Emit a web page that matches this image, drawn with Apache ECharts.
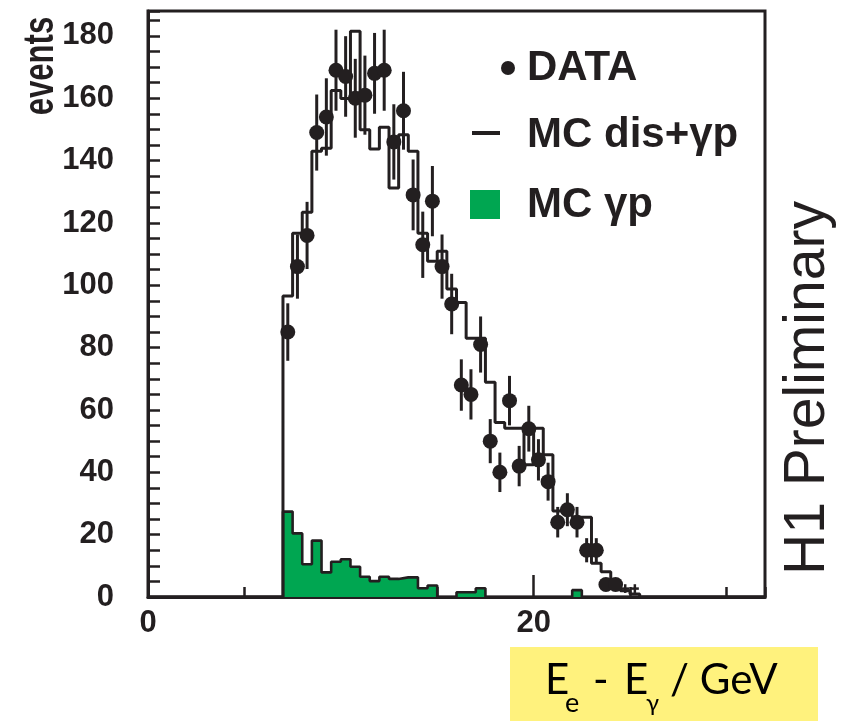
<!DOCTYPE html>
<html><head><meta charset="utf-8">
<script src="https://cdn.jsdelivr.net/npm/echarts@6/dist/echarts.min.js"></script>
<style>html,body{margin:0;padding:0;background:#fff}#c{width:843px;height:721px}</style>
</head><body><div id="c"></div>
<script>
// Histogram bins (left edges, GeV), bin width 0.5
const binLeft = [7.0,7.5,8.0,8.5,9.0,9.5,10.0,10.5,11.0,11.5,12.0,12.5,13.0,13.5,14.0,14.5,15.0,15.5,16.0,16.5,17.0,17.5,18.0,18.5,19.0,19.5,20.0,20.5,21.0,21.5,22.0,22.5,23.0,23.5,24.0,24.5,25.0];
const histEnd = 25.5;
const xMin = 0, xMax = 32, yMin = 0, yMax = 188;
// MC dis+gp (total)
const mcTotal = [96.6,116.7,123.4,143.0,144.0,162.5,159.9,181.5,149.9,143.7,150.7,131.2,148.3,143.0,116.7,107.7,110.9,98.8,94.5,83.0,83.0,68.9,56.0,54.1,54.1,42.4,54.1,45.6,27.6,27.6,25.6,25.6,10.8,8.1,4.4,2.0,1.0];
// MC gp
const mcGammaP = [27.4,20.4,10.5,18.1,7.9,11.3,12.1,9.7,6.5,5.1,6.5,5.8,6.3,6.3,2.8,3.7,0,0,1.5,1.5,2.8,0,0,0,0,0,0,0,0,0,2.2,0,0,0,0,0,0];
// DATA points (bin centres)
const dataX = [7.25,7.75,8.25,8.75,9.25,9.75,10.25,10.75,11.25,11.75,12.25,12.75,13.25,13.75,14.25,14.75,15.25,15.75,16.25,16.75,17.25,17.75,18.25,18.75,19.25,19.75,20.25,20.75,21.25,21.75,22.25,22.75,23.25,23.75,24.25];
const dataY = [85,106,116,149,154,169,167,160,161,168,169,146,156,129,113,127,106,94,68,65,81,50,40,63,42,54,44,37,24,28,24,15,15,4,4];
// tiny low-count points at the end
const tailX = [24.75,25.25];
const tailY = [2.7,2.7];
const tailErr = [1.4,1.4];
const yTickLabels = [0,20,40,60,80,100,120,140,160,180];

const INK = '#231f20';
const FONT = '"Liberation Sans", Arial, Helvetica, sans-serif';

function stepPoints(vals){
  const pts = [[xMin, 0]];
  binLeft.forEach((x,i)=>pts.push([x, vals[i]]));
  pts.push([histEnd, 0]);
  pts.push([xMax, 0]);
  return pts;
}
const errData = dataX.map((x,i)=>[x, dataY[i], Math.sqrt(dataY[i])]);
const tailData = tailX.map((x,i)=>[x, tailY[i], tailErr[i]]);

const chart = echarts.init(document.getElementById('c'), null, {renderer:'canvas'});
const axisLabelBase = {fontFamily: FONT, fontWeight:'bold', fontSize:31, color: INK};

chart.setOption({
  animation:false,
  backgroundColor:'#ffffff',
  grid:{left:148, right:78, top:11, bottom:124, show:true, borderColor:INK, borderWidth:3, backgroundColor:'rgba(0,0,0,0)'},
  xAxis:[
    {type:'value', min:xMin, max:xMax, interval:20,
     axisLine:{show:true, lineStyle:{color:INK, width:3}},
     axisTick:{show:true, inside:true, length:22, lineStyle:{color:INK, width:2.5}},
     axisLabel:Object.assign({margin:11, showMaxLabel:false}, axisLabelBase),
     splitLine:{show:false}},
    {type:'value', min:xMin, max:xMax, interval:5, position:'bottom', offset:0,
     axisLine:{show:false},
     axisTick:{show:true, inside:true, length:10, lineStyle:{color:INK, width:2.5}},
     axisLabel:{show:false}, splitLine:{show:false}}
  ],
  yAxis:{type:'value', min:yMin, max:yMax, interval:5,
     axisLine:{show:true, lineStyle:{color:INK, width:3}},
     axisTick:{show:true, inside:true, length:12, lineStyle:{color:INK, width:2.5}},
     axisLabel:Object.assign({margin:34, formatter:function(v){return yTickLabels.indexOf(v)>=0 ? String(v) : '';}}, axisLabelBase),
     splitLine:{show:false}},
  series:[
    {name:'MC γp', type:'line', step:'end', data:stepPoints(mcGammaP), showSymbol:false, z:2,
     lineStyle:{color:INK, width:2.6}, areaStyle:{color:'#00a651', opacity:1}},
    {name:'MC dis+γp', type:'line', step:'end', data:stepPoints(mcTotal), showSymbol:false, z:3,
     lineStyle:{color:INK, width:3}},
    {name:'DATA err', type:'custom', z:4, clip:true, data:errData,
     renderItem:function(params, api){
       const x=api.value(0), y=api.value(1), e=api.value(2);
       const a=api.coord([x,y+e]), b=api.coord([x,Math.max(y-e,0)]);
       return {type:'line', shape:{x1:a[0],y1:a[1],x2:b[0],y2:b[1]}, style:{stroke:INK, lineWidth:3}};
     }},
    {name:'DATA', type:'scatter', z:5, symbol:'circle', symbolSize:15, data:dataX.map((x,i)=>[x,dataY[i]]),
     itemStyle:{color:INK, opacity:1}},
    {name:'tail', type:'custom', z:5, clip:true, data:tailData,
     renderItem:function(params, api){
       const x=api.value(0), y=api.value(1), e=api.value(2);
       const a=api.coord([x,y+e]), b=api.coord([x,y-e]), c=api.coord([x,y]);
       return {type:'group', children:[
         {type:'line', shape:{x1:a[0],y1:a[1],x2:b[0],y2:b[1]}, style:{stroke:INK, lineWidth:2.5}},
         {type:'line', shape:{x1:c[0]-4,y1:c[1],x2:c[0]+4,y2:c[1]}, style:{stroke:INK, lineWidth:2.5}}
       ]};
     }}
  ],
  graphic:[
    {type:'text', x:41, y:66, rotation:Math.PI/2, scaleX:0.74, style:{text:'events', font:'bold 42px '+FONT, fill:INK, align:'center', verticalAlign:'middle'}},
    // legend
    {type:'circle', shape:{cx:508, cy:68, r:7}, style:{fill:INK}},
    {type:'text', x:527, y:68, style:{text:'DATA', font:'bold 42px '+FONT, fill:INK, align:'left', verticalAlign:'middle'}},
    {type:'line', shape:{x1:472, y1:133, x2:500, y2:133}, style:{stroke:INK, lineWidth:4}},
    {type:'text', x:527, y:135, style:{text:'MC dis+γp', font:'bold 42px '+FONT, fill:INK, align:'left', verticalAlign:'middle'}},
    {type:'rect', shape:{x:470, y:190, width:30, height:29}, style:{fill:'#00a651'}},
    {type:'text', x:527, y:205, style:{text:'MC γp', font:'bold 42px '+FONT, fill:INK, align:'left', verticalAlign:'middle'}},
    // H1 Preliminary
    {type:'text', x:808, y:388, rotation:Math.PI/2, style:{text:'H1 Preliminary', font:'57px '+FONT, fill:INK, align:'center', verticalAlign:'middle'}},
    // x-axis title box
    {type:'rect', shape:{x:510, y:647, width:308, height:74}, style:{fill:'#fff27d'}},
    {type:'text', x:545, y:680, style:{text:'E', font:'42px Lato, "Open Sans", sans-serif', fill:'#000', align:'left', verticalAlign:'middle'}},
    {type:'text', x:565, y:703, style:{text:'e', font:'27px Lato, "Open Sans", sans-serif', fill:'#000', align:'left', verticalAlign:'middle'}},
    {type:'text', x:593, y:680, style:{text:'-', font:'42px Lato, "Open Sans", sans-serif', fill:'#000', align:'left', verticalAlign:'middle'}},
    {type:'text', x:624, y:680, style:{text:'E', font:'42px Lato, "Open Sans", sans-serif', fill:'#000', align:'left', verticalAlign:'middle'}},
    {type:'text', x:646, y:703, style:{text:'γ', font:'24px Lato, "Open Sans", sans-serif', fill:'#000', align:'left', verticalAlign:'middle'}},
    {type:'text', x:670, y:680, style:{text:'/ GeV', font:'42px Lato, "Open Sans", sans-serif', fill:'#000', align:'left', verticalAlign:'middle'}}
  ]
});
</script></body></html>
